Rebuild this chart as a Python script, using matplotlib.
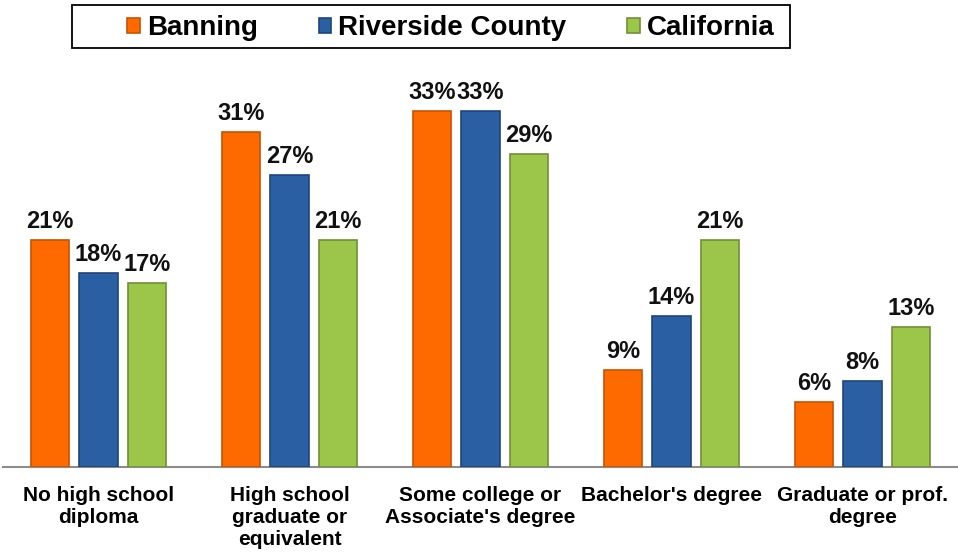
import numpy as np
import matplotlib.pyplot as plt
from matplotlib.patches import Rectangle

plt.rcParams['font.family'] = ['Liberation Sans', 'DejaVu Sans']

# data
categories = ["No high school\ndiploma", "High school\ngraduate or\nequivalent",
              "Some college or\nAssociate's degree", "Bachelor's degree",
              "Graduate or prof.\ndegree"]
series_names = ["Banning", "Riverside County", "California"]
banning = [21, 31, 33, 9, 6]
riverside = [18, 27, 33, 14, 8]
california = [17, 21, 29, 21, 13]

colors = ["#FF6A00", "#2B5FA3", "#9CC64A"]
edges = ["#C85300", "#1E4578", "#728F35"]

fig = plt.figure(figsize=(9.58, 5.52), dpi=100)
W, H = 958, 552
ax = fig.add_axes([3 / W, 1 - 467 / H, 955 / W, (467 - 60) / H])

x = np.arange(len(categories))
offsets = [-0.2526, 0, 0.2526]
for vals, name, c, ec, off in zip([banning, riverside, california],
                                  series_names, colors, edges, offsets):
    bars = ax.bar(x + off, vals, width=0.2, color=c, edgecolor=ec,
                  linewidth=1.2, label=name, zorder=3)
    for b, v in zip(bars, vals):
        ax.annotate(f"{v}%", (b.get_x() + b.get_width() / 2, v),
                    xytext=(0, 5), textcoords="offset points",
                    ha="center", va="bottom", fontsize=17,
                    fontweight="bold", color="#111111")

ax.set_xlim(-0.5, 4.5)
ax.set_ylim(0, (467 - 60) / 10.8)
ax.set_yticks([])
ax.set_xticks(x)
ax.set_xticklabels(categories, fontsize=15, fontweight="bold",
                   linespacing=1.2)
ax.tick_params(axis="x", length=0, pad=14)
for s in ["top", "right", "left"]:
    ax.spines[s].set_visible(False)
ax.spines["bottom"].set_color("#8C8C8C")
ax.spines["bottom"].set_linewidth(1.5)

# legend with a plain black box around it
fig.patches.append(Rectangle((72 / W, 1 - 48 / H), 718 / W, 43 / H,
                             transform=fig.transFigure, fill=False,
                             edgecolor="black", linewidth=1.3))
leg = fig.legend(loc="center", bbox_to_anchor=(451 / W, 1 - 28 / H),
                 ncol=3, fontsize=20, frameon=False,
                 handlelength=0.45, handleheight=0.45, handletextpad=0.25,
                 columnspacing=2.2, borderpad=0, borderaxespad=0)
for t in leg.get_texts():
    t.set_fontweight("bold")

fig.savefig("out.png", dpi=100)
